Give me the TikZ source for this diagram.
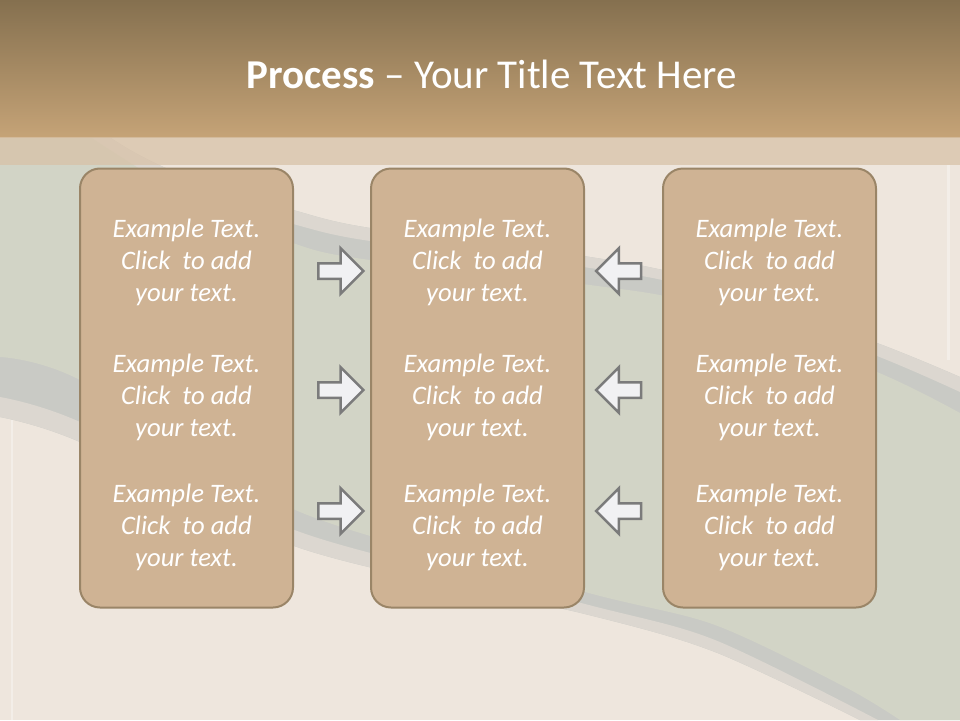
\documentclass[tikz,border=0pt]{standalone}
\usepackage{fontspec}
\setmainfont{Carlito}
\usetikzlibrary{shapes.arrows}
\definecolor{bandtop}{HTML}{85704F}
\definecolor{bandbot}{HTML}{C5A377}
\definecolor{lightband}{HTML}{D8C2A8}
\definecolor{beige}{HTML}{EEE6DD}
\definecolor{greenish}{HTML}{D2D4C6}
\definecolor{stripe}{HTML}{C9CAC5}
\definecolor{stripelight}{HTML}{DCD7D0}
\definecolor{boxfill}{HTML}{CFB394}
\definecolor{boxline}{HTML}{9A8567}
\definecolor{arrowfill}{HTML}{F1F1F3}
\definecolor{arrowline}{HTML}{7B7B7B}
\tikzset{
  procbox/.style={draw=boxline, line width=2pt, fill=boxfill, rounded corners=20pt,
    minimum width=213pt, minimum height=439pt, inner sep=0pt},
  txt/.style={font=\fontsize{26.67}{32}\selectfont\itshape, text=white, align=center, inner sep=0pt},
  blockarrow/.style={single arrow, draw=arrowline, fill=arrowfill, line width=2.5pt,
    minimum height=45pt, inner sep=6.5pt, single arrow head extend=15pt,
    single arrow head indent=0pt},
  rarrow/.style={blockarrow},
  larrow/.style={blockarrow, shape border rotate=180},
  titletxt/.style={font=\fontsize{41}{48}\selectfont, text=white, inner sep=0pt}
}
\begin{document}
\begin{tikzpicture}[x=1pt,y=-1pt]
\useasboundingbox (0,0) rectangle (960,720);
% background
\fill[beige] (0,0) rectangle (960,720);
% upper+lower stripe region
\fill[stripe] plot[smooth] coordinates {(40,90) (130,150) (200,182) (293,210) (370,228) (590,257) (700,280) (877,343) (960,377)}
  -- (960,720) -- (860,720)
  -- plot[smooth] coordinates {(860,720) (715,652) (585,614) (300,548) (80,442) (0,417)}
  -- (0,90) -- cycle;
% light part of lower stripe
\fill[stripelight] plot[smooth] coordinates {(0,397) (80,422) (300,532) (585,604) (715,640) (878,720)}
  -- (860,720)
  -- plot[smooth] coordinates {(860,720) (715,652) (585,614) (300,548) (80,442) (0,417)} -- cycle;
% light part of upper stripe
\fill[stripelight] plot[smooth] coordinates {(40,90) (130,150) (200,182) (293,210) (370,228) (590,257) (700,280) (877,343) (960,377)}
  -- (960,392)
  -- plot[smooth] coordinates {(960,392) (877,356) (700,290) (590,268) (370,241) (293,224) (200,196) (130,164) (30,100)} -- cycle;
% green band
\fill[greenish] plot[smooth] coordinates {(20,90) (110,150) (180,192) (293,243) (370,260) (590,285) (700,305) (877,372) (960,413)}
  -- (960,720) -- (900,720)
  -- plot[smooth] coordinates {(900,720) (845,687) (715,625) (585,592) (300,512) (80,380) (0,357)}
  -- (0,90) -- cycle;
% faint vertical lines
\draw[white, opacity=0.35, line width=3pt] (948,165) -- (948,360);
\draw[white, opacity=0.35, line width=2pt] (12,420) -- (12,720);
% title band
\shade[top color=bandtop, bottom color=bandbot] (0,0) rectangle (960,137);
\fill[lightband, opacity=0.75] (0,137) rectangle (960,165);
% title
\node[titletxt, anchor=base] (title) at (492,88) {\textbf{Process} – Your Title Text Here};
% boxes
\node[procbox] (b1) at (186.5,388) {};
\node[procbox] (b2) at (477.5,388) {};
\node[procbox] (b3) at (769.5,388) {};
% texts
\node[txt] (t11) at (186.5,262) {Example Text.\\Click~~to add\\your text.};
\node[txt] (t12) at (186.5,397) {Example Text.\\Click~~to add\\your text.};
\node[txt] (t13) at (186.5,527) {Example Text.\\Click~~to add\\your text.};
\node[txt] (t21) at (477.5,262) {Example Text.\\Click~~to add\\your text.};
\node[txt] (t22) at (477.5,397) {Example Text.\\Click~~to add\\your text.};
\node[txt] (t23) at (477.5,527) {Example Text.\\Click~~to add\\your text.};
\node[txt] (t31) at (769.5,262) {Example Text.\\Click~~to add\\your text.};
\node[txt] (t32) at (769.5,397) {Example Text.\\Click~~to add\\your text.};
\node[txt] (t33) at (769.5,527) {Example Text.\\Click~~to add\\your text.};
% arrows
\node[rarrow] (r1) at (337,271) {};
\node[rarrow] (r2) at (337,390) {};
\node[rarrow] (r3) at (337,511) {};
\node[larrow] (l1) at (622.5,271) {};
\node[larrow] (l2) at (622.5,390) {};
\node[larrow] (l3) at (622.5,511) {};
\end{tikzpicture}
\end{document}
